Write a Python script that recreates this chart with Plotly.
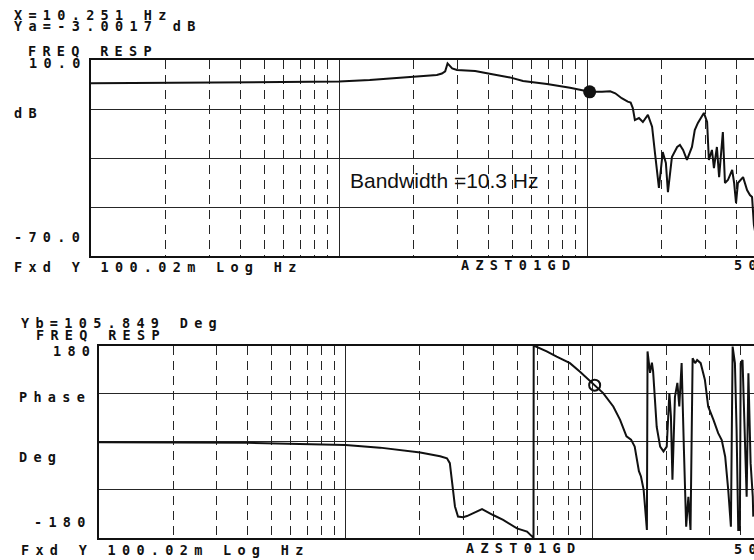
import plotly.graph_objects as go

# ---------------- data ----------------
mag_freq_hz = [0.1, 0.3, 1.0, 1.33, 2.0, 2.48, 2.6, 2.68, 2.74, 2.86, 2.99, 3.3, 3.54, 3.95,
               4.89, 5.52, 6.9, 8.54, 10.251, 11.5, 12.4, 13.0, 13.8, 14.6, 15.0, 15.3, 15.6,
               16.2, 16.8, 17.6, 18.3, 18.8, 19.5, 20.2, 20.8, 21.2, 22.0, 23.1, 23.7, 24.4,
               25.3, 26.5, 27.2, 28.0, 29.6, 30.5, 31.0, 31.9, 32.5, 33.4, 34.1, 35.3, 36.0,
               37.0, 38.5, 39.2, 39.9, 40.6, 42.6, 44.2, 45.4, 46.3, 47.1, 48.0]
mag_db = [0.5, 0.7, 1.2, 1.8, 3.0, 3.9, 4.5, 5.4, 8.6, 6.6, 5.9, 5.6, 5.5, 4.6,
          2.9, 1.4, 0.2, -1.3, -3.0, -3.0, -2.8, -3.6, -5.6, -7.0, -7.4, -9.6, -14.5,
          -13.7, -15.3, -12.4, -17.2, -28.0, -42.2, -27.6, -32.0, -43.9, -29.6, -25.5, -24.7, -26.7,
          -30.8, -25.5, -18.6, -15.7, -11.6, -15.3, -30.8, -26.7, -34.1, -25.5, -37.8, -19.4, -40.2,
          -39.0, -34.9, -40.2, -48.4, -40.2, -37.8, -43.1, -45.1, -45.9, -57.3, -62.0]

phase_freq_hz = [0.1, 0.4, 1.0, 1.38, 2.01, 2.42, 2.58, 2.65, 2.72, 2.78, 2.86, 3.0, 3.11, 3.29,
                 3.58, 3.97, 4.36, 4.96, 5.45, 5.71, 5.79, 5.80, 6.55, 7.19, 8.14, 8.94, 10.251,
                 11.1, 12.2, 13.0, 13.8, 14.4, 14.9, 15.2, 15.5, 15.8, 16.2, 16.7, 16.8, 17.2,
                 17.5, 17.7, 18.3, 18.9, 19.5, 20.1, 20.6, 20.9, 21.2, 21.7, 22.2, 22.6, 23.1,
                 23.6, 24.1, 24.6, 25.1, 25.6, 26.2, 26.7, 27.6, 28.7, 29.6, 31.1, 32.5, 33.6,
                 34.7, 35.7, 36.6, 37.2, 38.0, 38.6, 39.2, 39.8, 40.1, 40.8, 41.8, 42.4, 43.1,
                 44.0, 44.9, 45.1]
phase_deg = [-1, -2, -6, -11, -20, -27, -31, -40, -84, -121, -140, -141, -139, -134,
             -126, -137, -146, -162, -168, -177, -180, 180, 169, 159, 147, 131, 105.849,
             91, 66, 41, 10, 4, -9, -30, -55, -65, -90, -165, 169, 129,
             148, 131, 28, -9, -18, -9, 91, 47, -71, 84, 110, 66, 147,
             -15, -159, -103, -165, 156, 147, 153, 147, 116, 66, 41, 16, 3,
             -28, -90, -159, 178, 147, 22, -165, -165, 147, 153, -9, -103, 128,
             -40, -103, -140]

marker_freq_hz = 10.251
marker_db = -3.0017
marker_deg = 105.849

mag_ticks = [10.0, -70.0]
phase_ticks = [180, -180]

W, H = 754, 560
INK = "#111111"
GRID = "#262626"


def px(x):
    return x / W


def py(y):
    return 1 - y / H


fig = go.Figure()
fig.add_trace(go.Scatter(x=mag_freq_hz, y=mag_db, mode="lines",
                         line=dict(color=INK, width=2), xaxis="x", yaxis="y",
                         hoverinfo="skip"))
fig.add_trace(go.Scatter(x=[marker_freq_hz], y=[marker_db], mode="markers",
                         marker=dict(size=13, color=INK), xaxis="x", yaxis="y"))
fig.add_trace(go.Scatter(x=phase_freq_hz, y=phase_deg, mode="lines",
                         line=dict(color=INK, width=2), xaxis="x2", yaxis="y2",
                         hoverinfo="skip"))
fig.add_trace(go.Scatter(x=[marker_freq_hz], y=[marker_deg], mode="markers",
                         marker=dict(size=11, symbol="circle-open", color=INK,
                                     line=dict(width=2, color=INK)),
                         xaxis="x2", yaxis="y2"))

xcommon = dict(type="log", showticklabels=False, ticks="", dtick=1,
               showgrid=True, gridcolor=GRID, gridwidth=1,
               minor=dict(dtick="D1", showgrid=True, griddash="9px,6px",
                          gridcolor=GRID, gridwidth=1, ticks=""),
               showline=True, linecolor=INK, linewidth=1.5, mirror=True,
               zeroline=False)
ycommon = dict(showticklabels=False, ticks="", showgrid=True, gridcolor=GRID,
               gridwidth=1, showline=True, linecolor=INK, linewidth=1.5,
               zeroline=False)

fig.update_layout(
    width=W, height=H, margin=dict(l=0, r=0, t=0, b=0),
    paper_bgcolor="white", plot_bgcolor="white", showlegend=False,
    xaxis=dict(domain=[px(91), 1], range=[-1, -1 + (W - 91) / 248], anchor="y", **xcommon),
    yaxis=dict(domain=[py(256), py(60)], range=[mag_ticks[1], mag_ticks[0]],
               tick0=mag_ticks[1], dtick=20, anchor="x", **ycommon),
    xaxis2=dict(domain=[px(99), 1], range=[-1, -1 + (W - 99) / 246.5], anchor="y2", **xcommon),
    yaxis2=dict(domain=[py(538), py(345.5)], range=[phase_ticks[1], phase_ticks[0]],
                tick0=phase_ticks[1], dtick=90, anchor="x2", **ycommon),
)

MONO = "DejaVu Sans Mono"


def label(text, x, y, size=13.5, spacing=6.3):
    fig.add_annotation(
        text=f'<span style="letter-spacing:{spacing}px">{text}</span>',
        x=px(x), y=py(y), xref="paper", yref="paper",
        xanchor="left", yanchor="middle", showarrow=False, borderpad=0,
        font=dict(family=MONO, size=size, color=INK, weight="bold"))


# top panel texts
label("X=10.251 Hz", 13, 15)
label("Ya=-3.0017 dB", 13, 26)
label("FREQ RESP", 27, 51)
label(f"{mag_ticks[0]:.1f}", 28, 63)
label("dB", 13, 113)
label(f"{mag_ticks[1]:.1f}", 13, 237)
label("Fxd Y 100.02m Log Hz", 13, 267)
label("AZST01GD", 460, 265)
label("50", 733, 265)

# bottom panel texts
label("Yb=105.849 Deg", 20, 323)
label("FREQ RESP", 35, 335)
label(f"{phase_ticks[0]}", 52, 351)
label("Phase", 18, 397)
label("Deg", 18, 457)
label(f"{phase_ticks[1]}", 33, 522)
label("Fxd Y 100.02m Log Hz", 20, 550)
label("AZST01GD", 465, 548)
label("50", 733, 549)

fig.add_annotation(text="Bandwidth =10.3 Hz", x=px(444), y=py(181), xref="paper", yref="paper",
                   xanchor="center", yanchor="middle", showarrow=False, borderpad=0,
                   font=dict(family="Liberation Sans", size=21, color=INK))

fig.write_html("out.html")
